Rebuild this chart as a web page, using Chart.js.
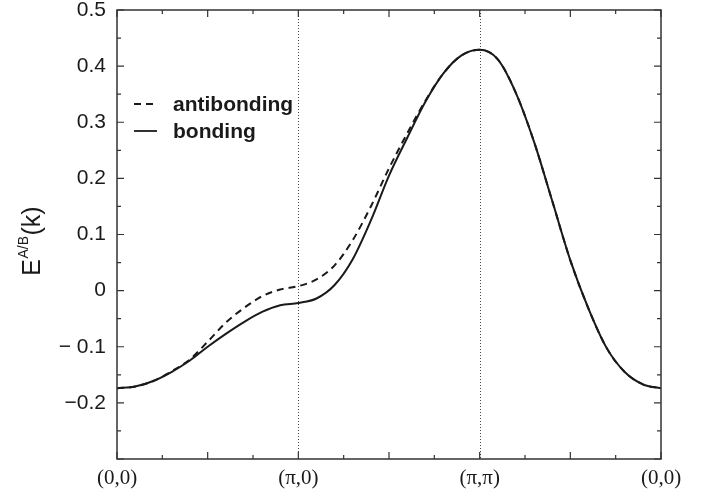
<!DOCTYPE html>
<html>
<head>
<meta charset="utf-8">
<script src="https://cdn.jsdelivr.net/npm/chart.js@4/dist/chart.umd.min.js"></script>
<style>
body{margin:0;background:#fff}
#wrap{width:712px;height:494px}
</style>
</head>
<body>
<div id="wrap"><canvas id="band"></canvas></div>
<script>

// k path (0,0) -> (pi,0) -> (pi,pi) -> (0,0), one unit per segment
let kPath=[0,0.1,0.2,0.3,0.4,0.5,0.6,0.7,0.8,0.9,1.0,
1.1,1.2,1.3,1.4,1.5,1.6,1.7,1.8,1.9,2.0,
2.1,2.2,2.3,2.4,2.5,2.6,2.7,2.8,2.9,3.0]

let antibonding=[-0.174,-0.171,-0.161,-0.144,-0.123,-0.091,-0.057,-0.031,-0.010,0.002,0.008,
0.020,0.045,0.090,0.150,0.218,0.280,0.338,0.387,0.419,0.429,
0.412,0.352,0.265,0.160,0.054,-0.032,-0.102,-0.145,-0.167,-0.174]

let bonding=[-0.174,-0.171,-0.161,-0.145,-0.125,-0.100,-0.077,-0.056,-0.038,-0.026,-0.022,
-0.014,0.010,0.056,0.125,0.205,0.272,0.336,0.387,0.419,0.429,
0.412,0.352,0.265,0.160,0.054,-0.032,-0.102,-0.145,-0.167,-0.174]

let xTickValues=[0,1,2,3]
let xTickText=["(0,0)","(\u03c0,0)","(\u03c0,\u03c0)","(0,0)"]

let yTickValues=[-0.2,-0.1,0,0.1,0.2,0.3,0.4,0.5]
let yTickText=["\u22120.2","\u2212 0.1","0","0.1","0.2","0.3","0.4","0.5"]

let ink="#1a1a1a"

function near(a,b){return Math.abs(a-b)<1e-6}

function labelFor(values,texts,v){
for(let i=0;i<values.length;i++){
if(near(values[i],v)) return texts[i]
}
return ""
}

function pts(ys){
return kPath.map((x,i)=>({x:x,y:ys[i]}))
}

// frame with inward ticks on all four sides, plus the high-symmetry markers
let framePlugin={
id:"frame",
beforeDatasetsDraw(chart){
let c=chart.ctx, a=chart.chartArea, xs=chart.scales.x
c.save()
c.strokeStyle="#444"
c.lineWidth=1
c.setLineDash([1,2])
;[1,2].forEach(v=>{
let px=Math.round(xs.getPixelForValue(v))+0.5
c.beginPath()
c.moveTo(px,a.top)
c.lineTo(px,a.bottom)
c.stroke()
})
c.restore()
},
afterDraw(chart){
let c=chart.ctx, a=chart.chartArea
let xs=chart.scales.x, ys=chart.scales.y
c.save()
c.strokeStyle="#333"
c.lineWidth=1.5
c.strokeRect(a.left,a.top,a.right-a.left,a.bottom-a.top)
c.lineWidth=1.2
xs.ticks.forEach(t=>{
let px=xs.getPixelForValue(t.value)
let len=near(t.value*2,Math.round(t.value*2))?7:4
c.beginPath()
c.moveTo(px,a.bottom);c.lineTo(px,a.bottom-len)
c.moveTo(px,a.top);c.lineTo(px,a.top+len)
c.stroke()
})
ys.ticks.forEach(t=>{
let py=ys.getPixelForValue(t.value)
let len=near(t.value*10,Math.round(t.value*10))?7:4
c.beginPath()
c.moveTo(a.left,py);c.lineTo(a.left+len,py)
c.moveTo(a.right,py);c.lineTo(a.right-len,py)
c.stroke()
})
c.restore()

// y axis title E^{A/B}(k)
c.save()
c.fillStyle=ink
c.textBaseline="alphabetic"
let big="25px 'Liberation Sans', Arial, sans-serif"
let small="14px 'Liberation Sans', Arial, sans-serif"
c.font=big
let wE=c.measureText("E").width
let wK=c.measureText("(k)").width
c.font=small
let wS=c.measureText("A/B").width
let total=wE+wS+1+wK
c.translate(40,241)
c.rotate(-Math.PI/2)
let x0=-total/2
c.font=big
c.fillText("E",x0,0)
c.font=small
c.fillText("A/B",x0+wE+0.5,-12)
c.font=big
c.fillText("(k)",x0+wE+wS+1,0)
c.restore()

// legend in the upper left corner
c.save()
c.font="bold 21px 'Liberation Sans', Arial, sans-serif"
c.textBaseline="middle"
c.fillStyle=ink
chart.data.datasets.forEach((ds,i)=>{
let y=104+i*27
c.strokeStyle=ink
c.lineWidth=1.8
c.setLineDash(ds.borderDash||[])
c.beginPath()
c.moveTo(134,y);c.lineTo(157,y)
c.stroke()
c.setLineDash([])
c.fillText(ds.label,173,y+1)
})
c.restore()
}
}

new Chart(document.getElementById("band"),{
type:"line",
data:{
datasets:[
{label:"antibonding",data:pts(antibonding),borderColor:ink,borderWidth:2,borderDash:[7,5],order:2},
{label:"bonding",data:pts(bonding),borderColor:ink,borderWidth:2,order:1}
]
},
options:{
responsive:true,
maintainAspectRatio:false,
animation:false,
events:[],
layout:{padding:{left:0,right:51,top:10,bottom:0}},
elements:{point:{radius:0},line:{cubicInterpolationMode:"monotone",fill:false}},
plugins:{legend:{display:false},tooltip:{enabled:false}},
scales:{
x:{
type:"linear",min:0,max:3,
border:{display:false},
grid:{display:false,drawTicks:false},
ticks:{stepSize:0.25,autoSkip:false,maxRotation:0,padding:7,color:ink,
font:{family:"'Liberation Serif', 'Times New Roman', serif",size:21},
callback:v=>labelFor(xTickValues,xTickText,v)},
afterFit:s=>{s.height=35;s.paddingLeft=0;s.paddingRight=0}
},
y:{
min:-0.3,max:0.5,
border:{display:false},
grid:{display:false,drawTicks:false},
ticks:{stepSize:0.05,autoSkip:false,padding:11,color:ink,
font:{family:"'Liberation Sans', Arial, sans-serif",size:21,lineHeight:1},
callback:v=>labelFor(yTickValues,yTickText,v)},
afterFit:s=>{s.width=117;s.paddingTop=0;s.paddingBottom=0}
}
}
},
plugins:[framePlugin]
})

</script>
</body>
</html>
